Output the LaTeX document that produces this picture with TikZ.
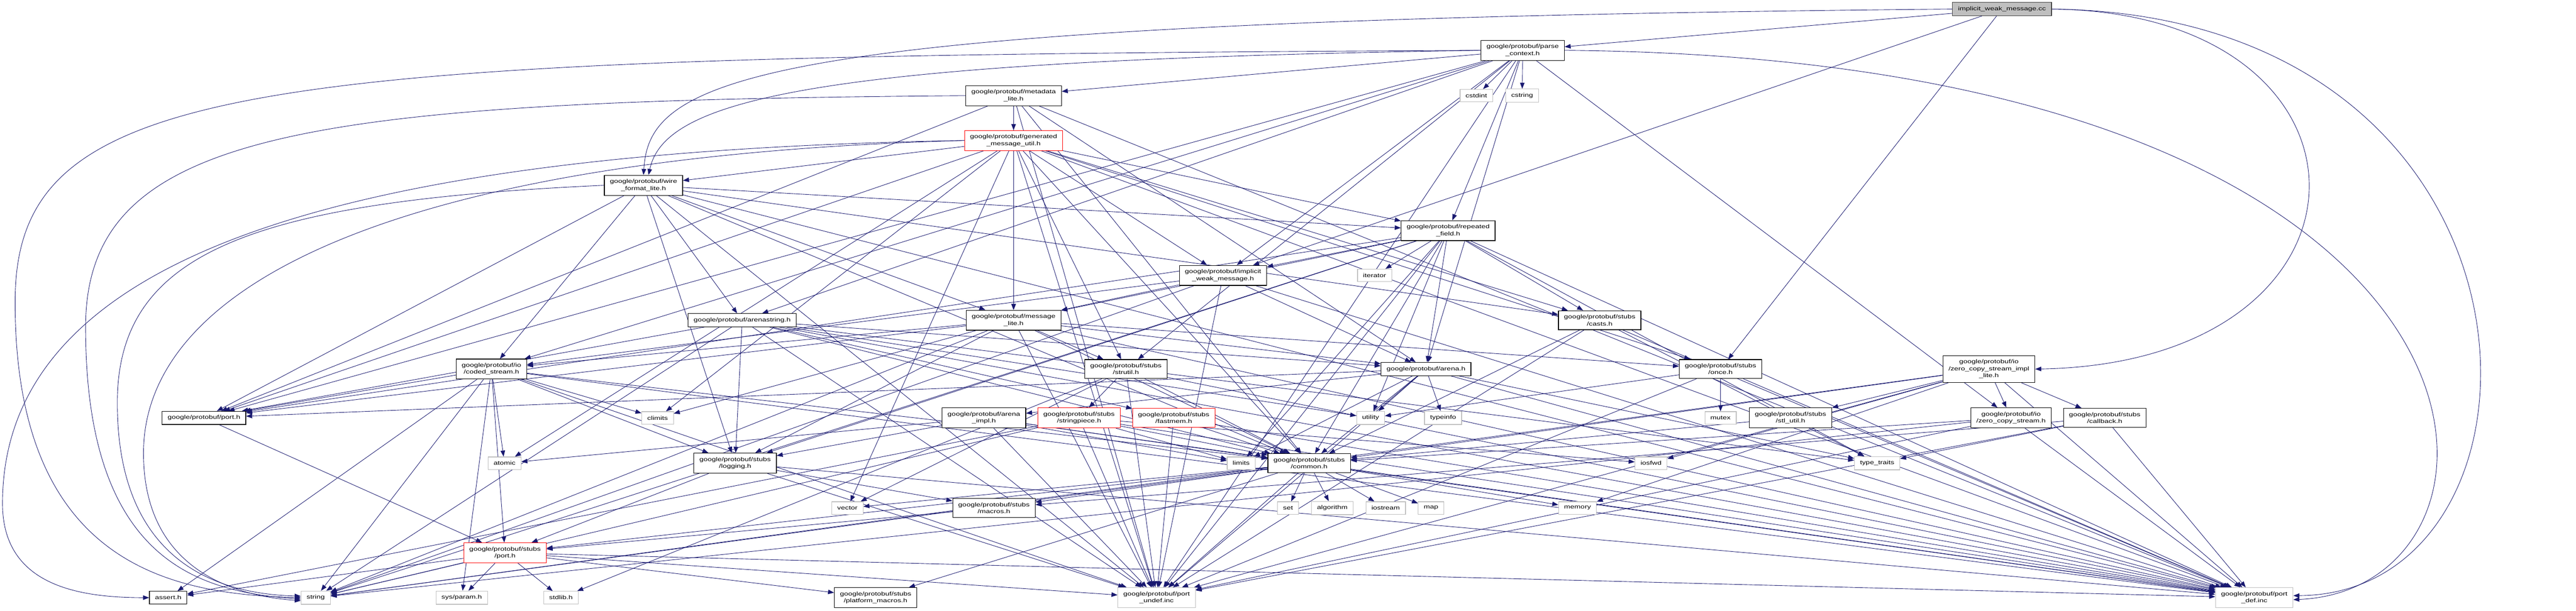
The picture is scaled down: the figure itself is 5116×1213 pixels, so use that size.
\documentclass[tikz,border=0pt]{standalone}
\usepackage{fontspec}
\newfontfamily\dotfont{Liberation Sans}[FakeStretch=1.34]
\usetikzlibrary{arrows.meta}
\pgfdeclarelayer{back}
\pgfsetlayers{back,main}
\definecolor{edgeblue}{HTML}{191970}
\definecolor{sysgray}{HTML}{BFBFBF}
\definecolor{truncred}{HTML}{FF0000}
\tikzset{%
  hdr/.style      = {shape=rectangle, draw=black, fill=white, line width=1.2pt,%
                     align=center, inner xsep=11pt, inner ysep=8pt,%
                     minimum height=25pt},%
  syshdr/.style   = {hdr, draw=sysgray},%
  trunc/.style    = {hdr, draw=truncred},%
  mainfile/.style = {hdr, fill=sysgray, draw=black!75},%
  dep/.style      = {draw=edgeblue, line width=0.9pt,%
                     -{Triangle[length=12pt,width=9pt]}}%
}

\begin{document}
\begin{tikzpicture}[x=1pt,y=-1pt,
	every node/.style = {font=\dotfont\fontsize{11}{13.6}\selectfont},
	every edge/.style = {dep}]
	\useasboundingbox (0,0) rectangle (5116,1213);
	% rank 0 to 3
	\node [mainfile] (cc) at (3976,18) {implicit\_weak\_message.cc};
	\node [hdr] (pc) at (3024,100) {google/protobuf/parse\\\_context.h};
	\node [syshdr] (cstdint) at (2932,190) {cstdint};
	\node [syshdr] (cstring) at (3023,190) {cstring};
	\node [hdr] (ml) at (2013,190) {google/protobuf/metadata\\\_lite.h};
	\node [trunc] (gmu) at (2013,279) {google/protobuf/generated\\\_message\_util.h};
	\node [hdr] (wfl) at (1278,368) {google/protobuf/wire\\\_format\_lite.h};
	\node [hdr] (rf) at (2876,458) {google/protobuf/repeated\\\_field.h};
	\node [syshdr] (iterator) at (2730,547) {iterator};
	\node [hdr] (iwm) at (2429,547) {google/protobuf/implicit\\\_weak\_message.h};
	% middle ranks
	\node [hdr] (mlite) at (2013,636) {google/protobuf/message\\\_lite.h};
	\node [hdr] (as) at (1474,636) {google/protobuf/arenastring.h};
	\node [hdr] (casts) at (3177,636) {google/protobuf/stubs\\/casts.h};
	\node [hdr] (cs) at (976,733) {google/protobuf/io\\/coded\_stream.h};
	\node [hdr] (su) at (2236,733) {google/protobuf/stubs\\/strutil.h};
	\node [hdr] (ar) at (2832,733) {google/protobuf/arena.h};
	\node [hdr] (once) at (3417,733) {google/protobuf/stubs\\/once.h};
	\node [hdr] (zcsil) at (3950,733) {google/protobuf/io\\/zero\_copy\_stream\_impl\\\_lite.h};
	\node [hdr] (port) at (405,830) {google/protobuf/port.h};
	\node [syshdr] (climits) at (1306,830) {climits};
	\node [hdr] (ai) at (1954,830) {google/protobuf/arena\\\_impl.h};
	\node [trunc] (sp) at (2143,830) {google/protobuf/stubs\\/stringpiece.h};
	\node [trunc] (fm) at (2331,830) {google/protobuf/stubs\\/fastmem.h};
	\node [syshdr] (utility) at (2722,830) {utility};
	\node [syshdr] (typeinfo) at (2866,830) {typeinfo};
	\node [syshdr] (mutex) at (3417,830) {mutex};
	\node [hdr] (stl) at (3556,830) {google/protobuf/stubs\\/stl\_util.h};
	\node [hdr] (zcs) at (3994,830) {google/protobuf/io\\/zero\_copy\_stream.h};
	\node [hdr] (cb) at (4180,830) {google/protobuf/stubs\\/callback.h};
	\node [syshdr] (atomic) at (1002,920) {atomic};
	\node [hdr] (lg) at (1460,920) {google/protobuf/stubs\\/logging.h};
	\node [syshdr] (limits) at (2465,920) {limits};
	\node [hdr] (cm) at (2600,920) {google/protobuf/stubs\\/common.h};
	\node [syshdr] (iosfwd) at (3279,920) {iosfwd};
	\node [syshdr] (tt) at (3728,920) {type\_traits};
	\node [syshdr] (vector) at (1683,1009) {vector};
	\node [hdr] (mac) at (1974,1009) {google/protobuf/stubs\\/macros.h};
	\node [syshdr] (set) at (2558,1009) {set};
	\node [syshdr] (algorithm) at (2646,1009) {algorithm};
	\node [syshdr] (iostream) at (2752,1009) {iostream};
	\node [syshdr] (map) at (2842,1009) {map};
	\node [syshdr] (memory) at (3133,1009) {memory};
	\node [trunc] (spt) at (1003,1098) {google/protobuf/stubs\\/port.h};
	% bottom rank
	\node [hdr] (assert) at (334,1187) {assert.h};
	\node [syshdr] (string) at (627,1187) {string};
	\node [syshdr] (sysparam) at (917,1187) {sys/param.h};
	\node [syshdr] (stdlib) at (1114,1187) {stdlib.h};
	\node [hdr] (pm) at (1739,1187) {google/protobuf/stubs\\/platform\_macros.h};
	\node [syshdr] (pu) at (2297,1187) {google/protobuf/port\\\_undef.inc};
	\node [syshdr] (pd) at (4477,1187) {google/protobuf/port\\\_def.inc};
	\begin{pgfonlayer}{back}
	\fill [white] (0,0) rectangle (5116,1213);
	% long detours round the sides
	\draw [dep] (cc.east) .. controls (5109,30) and (5109,1180) .. ([yshift=4pt]pd.east);
	\draw [dep] (pc.east) .. controls (5058,115) and (5058,1170) .. ([yshift=-4pt]pd.east);
	\draw [dep] (cc.east) .. controls (4760,25) and (4760,720) .. (zcsil.east);
	\draw [dep] (cc.west) .. controls (1500,40) and (1290,150) .. (wfl.north);
	\draw [dep] (pc.west) .. controls (1600,120) and (1320,200) .. ([xshift=10pt]wfl.north);
	\draw [dep] (pc.west) .. controls (500,112) and (30,150) .. (30,600)
		.. controls (30,1130) and (350,1180) .. (string.west);
	\draw [dep] (ml.west) .. controls (600,200) and (170,260) .. (170,650)
		.. controls (170,1120) and (400,1175) .. ([yshift=-3pt]string.west);
	\draw [dep] (gmu.west) .. controls (700,300) and (5,500) .. (5,1000)
		.. controls (5,1160) and (150,1187) .. (assert.west);
	\draw [dep] (wfl.west) .. controls (500,400) and (233,500) .. (233,800)
		.. controls (233,1130) and (450,1180) .. ([yshift=3pt]string.west);
	\draw [dep] (gmu.west) .. controls (800,310) and (285,560) .. (285,900)
		.. controls (285,1140) and (480,1185) .. ([yshift=-6pt]string.west);
	% straight includes
	\path (cc) edge (iwm) edge (pc) edge (once);
	\path (pc) edge (cstdint) edge (cstring) edge (cs) edge (zcs)
		edge (ar) edge (as) edge (iwm) edge (ml) edge (port) edge (rf)
		edge (su) edge (pu);
	\path (ml) edge (cm) edge (ar) edge (gmu) edge (mlite)
		edge (port) edge (pd) edge (pu);
	\path (gmu) edge (atomic) edge (climits) edge (vector) edge (cm)
		edge (iwm) edge (mlite) edge (once) edge (port) edge (rf) edge (wfl)
		edge (su) edge (casts) edge (pd) edge (pu);
	\path (wfl) edge (cm) edge (lg) edge (cs) edge (as)
		edge (mlite) edge (port) edge (rf) edge (casts) edge (pd) edge (pu);
	\path (rf) edge (utility) edge (iterator) edge (limits) edge (string)
		edge (tt) edge (lg) edge (cm) edge (ar) edge (iwm) edge (mlite)
		edge (port) edge (casts) edge (pd) edge (pu);
	\path (iwm) edge (string) edge (cs) edge (ar) edge (mlite) edge (pd) edge (pu);
	\path (mlite) edge (climits) edge (string) edge (cm) edge (lg) edge (cs)
		edge (ar) edge (once) edge (port) edge (su) edge (pd) edge (pu);
	\path (as) edge (string) edge (tt) edge (utility) edge (lg) edge (cm)
		edge (fm) edge (ar) edge (port) edge (pd) edge (pu);
	\path (cs) edge (assert) edge (atomic) edge (climits) edge (string)
		edge (sysparam) edge (cm) edge (lg) edge (port) edge (spt)
		edge (pd) edge (pu);
	\path (su) edge (stdlib) edge (vector) edge (cm) edge (sp) edge (pd) edge (pu);
	\path (ar) edge (limits) edge (tt) edge (utility) edge (typeinfo) edge (ai)
		edge (cm) edge (port) edge (pd) edge (pu);
	\path (ai) edge (atomic) edge (limits) edge (cm) edge (lg) edge (pd) edge (pu);
	\path (sp) edge (assert) edge (iosfwd) edge (limits) edge (string)
		edge (cm) edge (pd) edge (pu);
	\path (fm) edge (cm) edge (pd) edge (pu);
	\path (cm) edge (algorithm) edge (iostream) edge (map) edge (memory)
		edge (set) edge (string) edge (vector) edge (mac) edge (pm)
		edge (spt) edge (pd) edge (pu);
	\path (lg) edge (mac) edge (spt) edge (pd) edge (pu);
	\path (mac) edge (spt);
	\path (port) edge (spt);
	\path (spt) edge (assert) edge (stdlib) edge (string) edge (sysparam)
		edge (pm) edge (pd) edge (pu);
	\path (once) edge (mutex) edge (utility) edge (pd) edge (pu);
	\path (casts) edge (tt) edge (cm) edge (pd) edge (pu);
	\path (zcsil) edge (iosfwd) edge (memory) edge (string) edge (cb) edge (cm)
		edge (zcs) edge (stl) edge (pd) edge (pu);
	\path (zcs) edge (string) edge (cm) edge (pd) edge (pu);
	\path (cb) edge (tt) edge (mac) edge (pd) edge (pu);
	\path (stl) edge (cm);
	\end{pgfonlayer}
\end{tikzpicture}
\end{document}
